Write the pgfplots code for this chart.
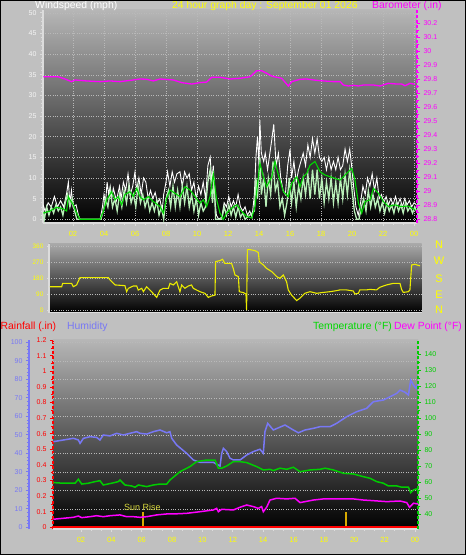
\documentclass[border=0pt]{standalone}
\usepackage{pgfplots}
\pgfplotsset{compat=1.18}
\usepackage{fontspec}
\setmainfont{Liberation Sans}
\definecolor{bg}{RGB}{192,192,192}
\definecolor{ttyellow}{RGB}{255,255,0}
\definecolor{mag}{RGB}{255,0,255}
\definecolor{wgreen}{RGB}{0,215,0}
\definecolor{pgreen}{RGB}{185,240,185}
\definecolor{hblue}{RGB}{120,120,245}
\definecolor{tgreen}{RGB}{0,205,0}
\definecolor{gridc}{RGB}{185,185,185}
\definecolor{topgray}{RGB}{182,182,182}
\definecolor{topgrayb}{RGB}{168,168,168}
\definecolor{sunc}{RGB}{215,170,0}
\definecolor{suntext}{RGB}{215,215,60}
\definecolor{axgray}{RGB}{220,220,220}
\definecolor{rred}{RGB}{255,0,0}
\pgfplotsset{
  every axis/.append style={scale only axis, anchor=south west, /pgf/number format/assume math mode=true},
  gridd/.style={grid style={gridc, dotted, line width=0.45pt}},
  tickf/.style={font=\fontsize{7}{8}\selectfont},
}
\begin{document}
\begin{tikzpicture}
\fill[bg] (0pt,0pt) rectangle (466pt,555pt);
\useasboundingbox (0pt,0pt) rectangle (466pt,555pt);

% ---------------- Panel 1: wind speed + barometer
\begin{axis}[at={(43pt,332pt)}, width=374pt, height=213pt,
  xmin=0.065, xmax=24.19, ymin=-0.9, ymax=50.68,
  axis background/.style={shade, top color=topgray, bottom color=black},
  axis x line*=bottom, axis y line*=left,
  x axis line style={-, axgray, line width=1.2pt},
  y axis line style={-, axgray, line width=1.5pt},
  tick align=outside, tick style={axgray, line width=0.7pt},
  major tick length=3pt, minor tick length=2pt,
  xtick={2,4,...,24}, xticklabels={02,04,06,08,10,12,14,16,18,20,22,00},
  minor x tick num=2,
  ytick={0,5,...,50}, minor y tick num=4,
  xticklabel style={text=ttyellow, font=\fontsize{7.5}{8}\selectfont, yshift=-2pt},
  yticklabel style={text=white!92!gray, tickf},
  xmajorgrids, ymajorgrids, gridd]
\addplot[white, line width=0.9pt] coordinates {
(0.07,3.5) (0.2,2) (0.4,4) (0.6,3) (0.8,5.5) (1.0,3) (1.2,4.5) (1.4,3) (1.6,6.5) (1.7,9) (1.8,4) (1.9,7) (2.0,3) (2.2,3.5) (2.35,1) (2.45,0) (3.75,0) (3.9,3) (4.0,6) (4.1,4) (4.2,9) (4.3,6) (4.4,8) (4.5,5) (4.6,7.5) (4.8,4.5) (5.0,8) (5.1,5) (5.25,9) (5.4,7) (5.55,11) (5.7,6) (5.85,8) (6.0,11.5) (6.1,7) (6.25,10) (6.4,6) (6.55,10) (6.7,9) (6.85,5) (7.0,7) (7.15,5) (7.3,6.5) (7.45,4) (7.6,5) (7.75,2) (7.85,6) (8.0,9) (8.1,11.5) (8.25,8) (8.4,11.5) (8.55,9) (8.7,11) (8.9,11.5) (9.05,8) (9.2,11.5) (9.35,10) (9.5,11) (9.65,7) (9.8,9) (9.95,5) (10.1,8) (10.25,6) (10.4,9) (10.55,5) (10.7,13) (10.85,15) (10.95,9) (11.05,13) (11.15,5) (11.25,1) (11.4,0) (11.6,0.5) (11.75,4) (11.9,3) (12.05,5.5) (12.2,3) (12.35,4.5) (12.5,3) (12.65,6) (12.8,3) (12.95,2) (13.1,3) (13.25,1) (13.4,2) (13.55,0.5) (13.7,6) (13.8,15) (13.9,20) (14.0,13) (14.05,24) (14.15,16) (14.3,14) (14.4,16) (14.55,12) (14.7,16) (14.85,20) (14.95,23) (15.1,13) (15.25,16) (15.4,10) (15.55,7) (15.7,6) (15.85,13) (16.0,17) (16.1,10) (16.25,14) (16.4,9) (16.55,12) (16.7,14) (16.85,16) (17.0,13) (17.15,18) (17.3,15) (17.45,19.5) (17.6,16) (17.75,19.5) (17.9,15) (18.05,14) (18.2,15) (18.35,12) (18.5,15) (18.65,12) (18.8,14) (18.95,12) (19.1,15) (19.25,12) (19.4,13) (19.55,17) (19.7,14) (19.85,17) (20.0,12) (20.1,8) (20.25,3) (20.4,1) (20.55,4) (20.7,8) (20.85,6) (21.0,10) (21.15,8) (21.3,11) (21.45,7) (21.6,10) (21.75,5) (21.9,6) (22.05,4) (22.2,5.5) (22.35,3.5) (22.5,5) (22.65,3.5) (22.8,5.5) (22.95,3.5) (23.1,5) (23.25,3) (23.4,5) (23.55,3.5) (23.7,4.5) (23.85,3) (24.0,4) (24.15,3.5)};
\addplot[pgreen, line width=1.3pt] coordinates {
(0.07,2) (0.15,0) (0.3,3) (0.45,1) (0.6,3) (0.75,1.5) (0.9,3.5) (1.05,2) (1.2,3) (1.35,1) (1.5,4) (1.65,6) (1.8,3) (1.95,5) (2.1,2) (2.25,0) (3.8,0) (3.95,2) (4.1,5) (4.25,3) (4.4,7) (4.55,3) (4.7,5) (4.85,2) (5.0,6) (5.15,3) (5.3,7) (5.45,4) (5.6,8) (5.75,4) (5.9,6) (6.05,3) (6.2,8) (6.35,4) (6.5,6) (6.65,3) (6.8,5) (6.95,2) (7.1,4) (7.25,2) (7.4,4.5) (7.55,1) (7.7,3) (7.85,0) (8.0,5) (8.15,7) (8.3,3) (8.45,8) (8.6,3) (8.75,7) (8.9,3) (9.05,8) (9.2,4) (9.35,8) (9.5,3) (9.65,6) (9.8,2) (9.95,5) (10.1,1) (10.25,4) (10.4,2) (10.55,3) (10.7,9) (10.85,12) (11.0,4) (11.1,10) (11.2,0) (11.6,0) (11.75,3) (11.9,1) (12.05,3.5) (12.2,1) (12.35,3) (12.5,0.5) (12.65,3) (12.8,0.5) (12.95,1.5) (13.1,0) (13.7,2) (13.8,10) (13.9,5) (14.05,15) (14.15,6) (14.3,10) (14.45,3) (14.6,10) (14.75,6) (14.9,14) (15.05,7) (15.2,9) (15.35,3) (15.5,5) (15.65,1) (15.8,4) (15.95,10) (16.1,4) (16.25,9) (16.4,3) (16.55,8) (16.7,5) (16.85,10) (17.0,6) (17.15,11) (17.3,5) (17.45,12) (17.6,6) (17.75,12) (17.9,5) (18.05,10) (18.2,4) (18.35,9) (18.5,5) (18.65,10) (18.8,4) (18.95,9) (19.1,4) (19.25,10) (19.4,5) (19.55,11) (19.7,6) (19.85,12) (20.0,7) (20.15,2) (20.3,0) (20.45,0) (20.6,3) (20.75,5) (20.9,2) (21.05,7) (21.2,3) (21.35,6) (21.5,3) (21.65,5) (21.8,2) (21.95,4) (22.1,1.5) (22.25,4) (22.4,2) (22.55,3.5) (22.7,1.5) (22.85,4) (23.0,2) (23.15,3.5) (23.3,1.5) (23.45,4) (23.6,2) (23.75,3) (23.9,1.5) (24.05,3) (24.15,2)};
\addplot[wgreen, line width=1.1pt] coordinates {
(0.09,1.5) (0.52,2.0) (0.95,2.9) (1.38,2.5) (1.59,2.0) (1.7,5.5) (1.81,4.7) (2.02,3.5) (2.24,1.5) (2.45,0) (3.74,0) (3.96,1.9) (4.17,4.7) (4.49,6.7) (4.71,4.7) (4.92,5.5) (5.14,3.5) (5.35,6.0) (5.68,6.7) (5.89,5.5) (6.11,7.5) (6.32,5.5) (6.54,4.7) (6.86,5.5) (7.18,4.3) (7.61,3.1) (7.83,1.5) (8.04,5.1) (8.26,7.1) (8.58,6.3) (8.90,5.5) (9.23,7.9) (9.55,7.1) (9.87,5.5) (10.19,3.9) (10.41,4.7) (10.62,3.1) (10.84,5.5) (11.05,11) (11.27,4.7) (11.48,1.5) (11.70,0) (11.91,1.5) (12.24,2.7) (12.56,3.5) (12.88,1.9) (13.20,0.7) (13.53,0.3) (13.74,3.1) (14.06,13.6) (14.28,10.3) (14.49,7.9) (14.82,10.3) (15.03,14) (15.25,10.7) (15.57,6.7) (15.89,5.5) (16.11,8.7) (16.43,10.3) (16.65,7.9) (16.86,10.3) (17.08,11.1) (17.29,13.1) (17.61,14) (17.94,11.5) (18.26,10.7) (18.58,10.3) (18.90,9.9) (19.23,9.5) (19.55,10.7) (19.76,11.5) (19.98,12.3) (20.19,9.5) (20.41,3.9) (20.62,1.5) (20.84,4.3) (21.16,4.7) (21.38,7.5) (21.70,6.3) (22.02,4.3) (22.34,3.1) (22.77,3.5) (23.10,3.1) (23.63,3.2) (24.06,2.3)};
\end{axis}
\begin{axis}[at={(43pt,332pt)}, width=374pt, height=213pt,
  xmin=0.065, xmax=24.19, ymin=28.771, ymax=30.293,
  axis x line=none, axis y line*=right,
  y axis line style={-, mag, densely dashed, line width=1.5pt},
  tick align=outside, tick style={mag, line width=0.7pt},
  major tick length=3pt, minor tick length=2pt,
  ytick={28.8,28.9,29,29.1,29.2,29.3,29.4,29.5,29.6,29.7,29.8,29.9,30,30.1,30.2},
  yticklabels={28.8,28.9,29,29.1,29.2,29.3,29.4,29.5,29.6,29.7,29.8,29.9,30,30.1,30.2},
  minor y tick num=1,
  yticklabel style={text=mag, tickf}]
\addplot[mag, line width=1.3pt] coordinates {
(0.09,29.816) (1.05,29.816) (1.48,29.800) (1.91,29.781) (2.13,29.793) (2.88,29.786) (3.74,29.781) (4.39,29.786) (5.03,29.781) (5.89,29.793) (6.32,29.800) (6.75,29.798) (7.18,29.786) (7.61,29.800) (8.47,29.793) (9.01,29.774) (9.66,29.764) (10.19,29.774) (10.62,29.778) (10.95,29.812) (11.48,29.812) (12.13,29.800) (12.77,29.805) (13.42,29.816) (13.85,29.859) (14.17,29.859) (14.49,29.841) (14.82,29.821) (15.14,29.812) (15.46,29.805) (15.74,29.769) (15.89,29.750) (16.11,29.781) (16.65,29.798) (17.08,29.800) (17.51,29.793) (17.94,29.788) (18.80,29.781) (19.23,29.781) (19.44,29.757) (19.76,29.750) (20.09,29.755) (20.41,29.750) (20.73,29.757) (21.38,29.757) (21.81,29.750) (22.34,29.769) (22.88,29.764) (23.20,29.764) (23.42,29.752) (23.74,29.769) (24.06,29.762)};
\end{axis}

% ---------------- Panel 2: wind direction
\begin{axis}[at={(49pt,242.3pt)}, width=372.7pt, height=68.7pt,
  xmin=0, xmax=24.05, ymin=-15, ymax=371,
  axis background/.style={shade, top color=topgrayb, bottom color=black},
  axis x line*=bottom, axis y line*=left,
  x axis line style={-, axgray, line width=1.2pt},
  y axis line style={-, axgray, line width=1.2pt},
  xtick=\empty, tick align=outside, tick style={axgray}, major tick length=2pt,
  ytick={0,90,180,270,360},
  yticklabel style={text=ttyellow, font=\fontsize{6.5}{7}\selectfont},
  ymajorgrids, gridd]
\addplot[ttyellow!92!black, line width=1.1pt] coordinates {
(0.06,131) (0.82,131) (0.88,150) (1.46,150) (1.57,131) (1.78,141) (2.0,182) (2.43,182) (3.83,182) (3.94,169) (4.26,141) (4.90,137) (5.01,103) (5.12,122) (5.44,135) (5.66,135) (5.76,112) (5.98,122) (6.09,103) (6.30,131) (6.52,112) (6.62,103) (6.95,71) (7.16,112) (7.38,122) (7.70,122) (7.81,150) (8.02,141) (8.24,159) (8.34,131) (8.45,103) (8.56,141) (8.77,122) (8.99,135) (9.20,141) (9.31,122) (9.53,112) (9.74,103) (10.06,94) (10.28,71) (10.49,79) (10.71,84) (10.75,272) (11.03,278) (11.20,285) (11.35,262) (11.78,262) (11.89,234) (12.00,197) (12.22,188) (12.28,103) (12.54,98) (12.71,90) (12.75,0) (12.80,338) (12.86,341) (13.29,334) (13.51,323) (13.57,272) (13.83,253) (14.04,234) (14.37,216) (14.69,188) (14.90,178) (15.12,197) (15.33,159) (15.44,113) (15.65,84) (15.98,53) (16.19,66) (16.51,94) (16.84,103) (17.27,94) (17.70,99) (18.13,103) (18.56,109) (18.77,113) (19.20,113) (19.63,107) (19.74,90) (19.96,94) (20.06,113) (20.49,113) (20.71,116) (21.14,113) (21.35,128) (21.78,141) (22.22,150) (22.65,150) (22.75,116) (22.86,99) (23.19,103) (23.29,113) (23.40,253) (23.61,257) (23.94,248)};
\end{axis}

% ---------------- Panel 3: rainfall (background, grid)
\begin{axis}[at={(53pt,26pt)}, width=365pt, height=189pt,
  xmin=0.158, xmax=24.2, ymin=-0.011, ymax=1.2006,
  axis background/.style={shade, top color=topgray, bottom color=black},
  axis x line=none, axis y line*=left,
  y axis line style={-, rred, densely dashed, line width=1.5pt},
  tick align=outside, tick style={rred, line width=0.7pt},
  major tick length=3pt, minor tick length=2pt, minor y tick num=1,
  ytick={0,0.1,0.2,0.3,0.4,0.5,0.6,0.7,0.8,0.9,1,1.1,1.2},
  yticklabels={0,0.1,0.2,0.3,0.4,0.5,0.6,0.7,0.8,0.9,1,1.1,1.2},
  yticklabel style={text=rred, tickf},
  xtick={2,4,...,24}, xmajorgrids, gridd,
  extra y ticks={0.1186,0.2372,0.3558,0.4744,0.5930,0.7116,0.8302,0.9488,1.0674,1.186},
  extra y tick labels={}, extra y tick style={grid=major, major tick length=0pt}]
\addplot[sunc, line width=1.6pt] coordinates {(6.1,-0.02) (6.1,0.1)};
\addplot[sunc, line width=1.6pt] coordinates {(19.44,-0.02) (19.44,0.1)};
\addplot[rred, line width=2.5pt] coordinates {(0.16,0) (24.2,0)};
\node[text=suntext, font=\fontsize{9}{10}\selectfont, inner sep=0] at (axis cs:6.05,0.126) {Sun Rise};
\end{axis}
% bottom time axis
\begin{axis}[at={(53pt,26pt)}, width=365pt, height=189pt,
  xmin=0.158, xmax=24.2, ymin=0, ymax=1,
  axis y line=none, axis x line*=bottom,
  x axis line style={-, axgray, line width=1.5pt},
  tick align=outside, tick style={axgray, line width=0.7pt},
  major tick length=3pt, minor tick length=2pt,
  xtick={2,4,...,24}, xticklabels={02,04,06,08,10,12,14,16,18,20,22,00},
  minor x tick num=2,
  xticklabel style={text=ttyellow, font=\fontsize{7.5}{8}\selectfont, yshift=-2pt}]
\end{axis}
% humidity
\begin{axis}[at={(29pt,26pt)}, width=389pt, height=189pt,
  xmin=-1.423, xmax=24.2, ymin=-0.92, ymax=101.25,
  axis x line=none, axis y line*=left,
  y axis line style={-, hblue, line width=2pt},
  tick align=outside, tick style={hblue, line width=0.7pt},
  major tick length=3pt, minor tick length=2pt, minor y tick num=4,
  ytick={0,10,...,100},
  yticklabel style={text=hblue, tickf}]
\addplot[hblue, line width=1.5pt] coordinates {
(0.18,46.3) (0.84,47.2) (1.50,48.1) (1.83,47.2) (1.94,45.4) (2.16,48.1) (2.60,49.0) (3.03,48.6) (3.25,47.2) (3.47,49.9) (3.91,49.4) (4.35,50.8) (4.79,49.9) (5.23,50.8) (5.67,51.7) (5.89,50.8) (6.33,50.4) (6.77,51.7) (7.21,52.6) (7.65,51.1) (7.86,51.7) (7.98,48.1) (8.30,44.5) (8.96,40.0) (9.40,36.4) (9.84,35.1) (10.72,35.1) (11.16,33.1) (11.27,40.0) (11.38,42.7) (11.60,40.9) (11.82,37.3) (12.04,36.4) (12.48,36.4) (12.92,39.1) (13.35,40.9) (13.79,42.2) (14.01,40.0) (14.12,51.7) (14.3,56.2) (14.67,52.6) (15.44,55.3) (15.99,52.6) (16.32,51.1) (16.76,52.6) (17.31,53.5) (17.75,54.4) (18.41,54.4) (18.84,56.2) (19.50,59.8) (20.16,62.5) (20.82,64.3) (21.26,67.9) (21.92,68.8) (22.36,70.6) (22.80,72.4) (23.02,74.2) (23.35,73.0) (23.57,71.5) (23.72,79.6) (23.90,76.9) (24.07,75.1) (24.22,77.8)};
\end{axis}
% temperature and dew point
\begin{axis}[at={(53pt,26pt)}, width=365pt, height=189pt,
  xmin=0.158, xmax=24.2, ymin=30.8, ymax=148.9,
  axis x line=none, axis y line*=right,
  y axis line style={-, tgreen, densely dashed, line width=1.5pt},
  tick align=outside, tick style={tgreen, line width=0.7pt},
  major tick length=3pt, minor tick length=2pt, minor y tick num=1,
  ytick={40,50,...,140},
  yticklabel style={text=tgreen, tickf}]
\addplot[tgreen, line width=1.5pt] coordinates {
(0.18,59.8) (0.84,59.4) (1.61,59.4) (1.83,61.9) (2.05,58.9) (2.49,59.4) (2.92,60.4) (3.25,61.0) (3.47,58.3) (4.02,59.4) (4.46,60.4) (4.57,61.4) (4.90,58.3) (5.34,57.7) (5.56,56.9) (5.78,58.3) (6.33,57.3) (6.77,58.3) (7.21,58.9) (7.65,58.9) (7.86,61.4) (8.52,66.6) (9.18,69.8) (9.62,72.9) (10.28,73.9) (10.83,73.9) (11.05,68.8) (11.27,68.8) (11.60,70.2) (12.04,72.9) (12.48,72.9) (12.92,72.3) (13.57,69.8) (14.01,67.7) (14.45,68.1) (14.67,67.3) (15.11,68.8) (15.55,68.1) (15.99,69.4) (16.43,66.6) (17.09,67.7) (17.75,68.1) (18.08,68.8) (18.63,67.7) (19.28,65.6) (19.94,65.2) (20.60,63.5) (21.04,62.5) (21.48,60.4) (21.92,59.4) (22.25,57.7) (22.80,57.7) (23.13,56.9) (23.57,56.9) (23.72,53.5) (23.90,55.2) (24.07,55.8) (24.22,54.8)};
\addplot[mag, line width=1.5pt] coordinates {
(0.18,36.9) (0.84,37.5) (1.50,38.1) (1.83,38.9) (2.05,37.9) (2.60,38.5) (3.03,39.1) (3.47,38.5) (3.91,39.1) (4.57,39.6) (5.01,38.5) (5.45,38.5) (5.89,38.1) (6.33,38.5) (6.99,39.6) (7.65,40.2) (8.08,40.2) (8.96,40.6) (9.84,41.6) (10.72,42.7) (10.94,43.7) (11.05,41.6) (11.27,43.1) (12.04,42.7) (12.48,44.4) (12.92,45.8) (13.35,44.8) (13.68,43.7) (13.90,44.8) (14.01,41.6) (14.23,44.4) (14.45,48.9) (14.89,50.0) (15.55,49.6) (16.10,50.0) (16.43,47.3) (16.76,47.9) (17.31,48.9) (17.97,49.6) (18.63,49.6) (19.94,49.6) (20.60,48.9) (21.26,48.5) (22.14,47.9) (23.02,48.3) (23.46,47.3) (23.64,44.4) (23.90,46.9) (24.22,46.4)};
\end{axis}

% ---------------- texts
\begin{scope}[every node/.style={inner sep=0, anchor=west, font=\fontsize{10.4}{12}\selectfont}]
\node[text=white] at (35pt,549pt) {Windspeed (mph)};
\node[text=ttyellow] at (172pt,549pt) {24 hour graph day : September 01 2026};
\node[text=mag] at (372pt,549pt) {Barometer (.in)};
\node[text=rred] at (0.5pt,227.7pt) {Rainfall (.in)};
\node[text=hblue] at (67pt,227.7pt) {Humidity};
\node[text=green!85!black] at (313pt,227.7pt) {Temperature (°F)};
\node[text=mag] at (394pt,227.7pt) {Dew Point (°F)};
\end{scope}
\begin{scope}[every node/.style={inner sep=0, text=ttyellow, font=\fontsize{11}{12}\selectfont}]
\node at (439pt,310.3pt) {N};
\node at (439pt,294.3pt) {W};
\node at (439pt,276.3pt) {S};
\node at (439pt,260pt) {E};
\node at (439pt,245pt) {N};
\end{scope}
\draw[black, line width=2.5pt] (0pt,0pt) rectangle (466pt,555pt);
\end{tikzpicture}
\end{document}
